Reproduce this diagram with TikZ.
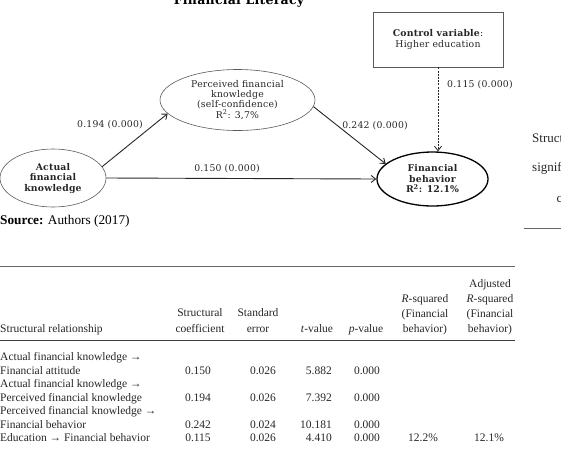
\documentclass[tikz,border=0pt]{standalone}
\usepackage{fontspec}
\setmainfont{Liberation Serif}
\newfontfamily\diagfont{DejaVu Serif}[LetterSpace=2]
\newfontfamily\tabfont{Liberation Serif}
\usetikzlibrary{shapes.geometric,arrows.meta}
\begin{document}
\begin{tikzpicture}[x=1pt,y=-1pt,
  ell/.style={ellipse, draw=black!65, line width=0.6pt, inner sep=0pt, align=center, text=black!85},
  dfont/.style={font=\diagfont\fontsize{9.3}{9.7}\selectfont},
  dbfont/.style={font=\diagfont\bfseries\fontsize{9.3}{10.5}\selectfont},
  lbl/.style={dfont, inner sep=0pt, text=black!85},
  arr/.style={-{Straight Barb[length=4.5pt,width=7pt]}, line width=0.9pt, draw=black!85},
  tx/.style={anchor=base, inner sep=0pt, font=\tabfont\fontsize{11.5}{13.5}\selectfont, text=black!85},
  txl/.style={tx, anchor=base west},
  txr/.style={tx, anchor=base east},
  side/.style={anchor=base west, inner sep=0pt, font=\fontsize{13}{15}\selectfont, text=black!85},
  rulel/.style={draw=black!60, line width=0.9pt}
]
\useasboundingbox (0,0) rectangle (561,448);
\clip (0,0) rectangle (561,448);

% title (cut off at top)
\node[anchor=base, inner sep=0pt, font=\diagfont\bfseries\fontsize{12.5}{14}\selectfont] (title) at (239,4.5) {Financial Literacy};

% diagram nodes
\node[ell, dfont, minimum width=155pt, minimum height=61pt] (perc) at (237.5,100)
  {Perceived financial\\knowledge\\(self-confidence)\\R\textsuperscript{2}: 3,7\%};
\node[ell, dbfont, minimum width=106pt, minimum height=58pt] (act) at (53,178)
  {Actual\\financial\\knowledge};
\node[ell, draw=black, line width=1.3pt, dbfont, minimum width=111pt, minimum height=54pt] (beh) at (432.5,179)
  {Financial\\behavior\\R\textsuperscript{2}: 12.1\%};
\node[draw=black!65, line width=0.6pt, minimum width=130pt, minimum height=55pt, align=center, font=\diagfont\fontsize{9.3}{10.5}\selectfont, text=black!85] (ctrl) at (438,39.5)
  {\textbf{Control variable}:\\Higher education};

% connectors
\draw[arr] (act.13) -- (perc.191);
\draw[arr] (act.east) -- (beh.west);
\draw[arr] (perc.-5) -- (beh.162);
\draw[arr, line width=0.8pt, dash pattern=on 2pt off 1.2pt] (ctrl.south) -- (ctrl.south |- beh.north);

% connector labels
\node[lbl] (l194) at (110,125) {0.194 (0.000)};
\node[lbl] (l150) at (227,169) {0.150 (0.000)};
\node[lbl] (l242) at (375,126) {0.242 (0.000)};
\node[lbl, anchor=west] (l115) at (447,85) {0.115 (0.000)};

% source
\node[anchor=base west, inner sep=0pt, font=\fontsize{13.3}{16}\selectfont] (src) at (0,224.5) {\textbf{Source:} Authors (2017)};

% side fragments
\node[side] (s1) at (532,142.7) {Struct};
\node[side] (s2) at (532,171) {signif};
\node[side] (s3) at (556.5,202.5) {c};
\coordinate (sr1) at (524,228);
\coordinate (sr2) at (561,228);
\draw[rulel] (sr1) -- (sr2);

% table rules
\coordinate (r1a) at (0,266.5); \coordinate (r1b) at (515,266.5);
\coordinate (r2a) at (0,340); \coordinate (r2b) at (515,340);
\draw[rulel] (r1a) -- (r1b);
\draw[rulel, draw=black!75, line width=0.8pt] (r2a) -- (r2b);

% header
\node[txl] (h1) at (0,332.5) {Structural relationship};
\node[tx] (h2a) at (200,316.5) {Structural};
\node[tx] (h2b) at (200,332.5) {coefficient};
\node[tx] (h3a) at (258,316.5) {Standard};
\node[tx] (h3b) at (258,332.5) {error};
\node[tx] (h4) at (317,332.5) {\textit{t}-value};
\node[tx] (h5) at (366,332.5) {\textit{p}-value};
\node[tx] (h6a) at (425,302) {\textit{R}-squared};
\node[tx] (h6b) at (425,317) {(Financial};
\node[tx] (h6c) at (425,332.5) {behavior)};
\node[tx] (h7a) at (490,287) {Adjusted};
\node[tx] (h7b) at (490,302) {\textit{R}-squared};
\node[tx] (h7c) at (490,317) {(Financial};
\node[tx] (h7d) at (490,332.5) {behavior)};

% rows
\node[txl] (a1) at (0,360.5) {Actual financial knowledge →};
\node[txl] (a2) at (0,374) {Financial attitude};
\node[txl] (b1) at (0,387.5) {Actual financial knowledge →};
\node[txl] (b2) at (0,401) {Perceived financial knowledge};
\node[txl] (c1) at (0,414.5) {Perceived financial knowledge →};
\node[txl] (c2) at (0,428) {Financial behavior};
\node[txl] (d1) at (0,441.5) {Education → Financial behavior};

\node[tx] (a3) at (198,374) {0.150};
\node[tx] (a4) at (263,374) {0.026};
\node[txr] (a5) at (332,374) {5.882};
\node[tx] (a6) at (367,374) {0.000};

\node[tx] (b3) at (198,401) {0.194};
\node[tx] (b4) at (263,401) {0.026};
\node[txr] (b5) at (332,401) {7.392};
\node[tx] (b6) at (367,401) {0.000};

\node[tx] (c3) at (198,428) {0.242};
\node[tx] (c4) at (263,428) {0.024};
\node[txr] (c5) at (332,428) {10.181};
\node[tx] (c6) at (367,428) {0.000};

\node[tx] (d3) at (198,441.5) {0.115};
\node[tx] (d4) at (263,441.5) {0.026};
\node[txr] (d5) at (332,441.5) {4.410};
\node[tx] (d6) at (367,441.5) {0.000};
\node[tx] (d7) at (423,441.5) {12.2\%};
\node[tx] (d8) at (489,441.5) {12.1\%};
\end{tikzpicture}
\end{document}
